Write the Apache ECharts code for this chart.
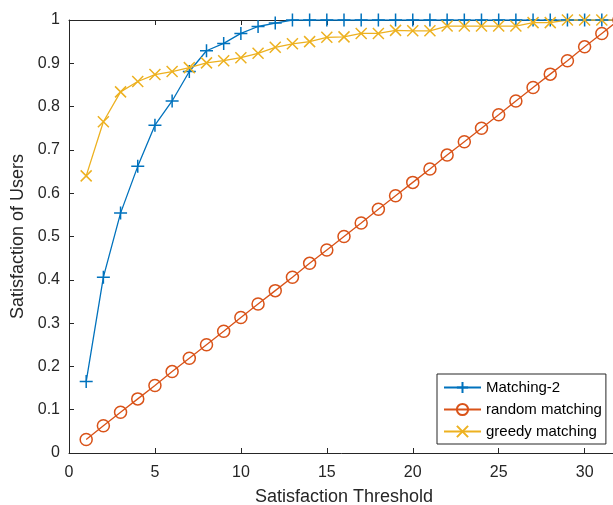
<!DOCTYPE html>
<html>
<head>
<meta charset="utf-8">
<script src="https://cdn.jsdelivr.net/npm/echarts@6/dist/echarts.min.js"></script>
<style>html,body{margin:0;padding:0;background:#fff;}#c{width:613px;height:505px;}</style>
</head>
<body>
<div id="c"></div>
<script>
var thresholds = [1,2,3,4,5,6,7,8,9,10,11,12,13,14,15,16,17,18,19,20,21,22,23,24,25,26,27,28,29,30,31,32];
var matching2 = [0.165,0.406,0.554,0.662,0.757,0.813,0.881,0.929,0.946,0.969,0.985,0.993,1,1,1,1,1,1,1,1,1,1,1,1,1,1,1,1,1,1,1,1];
var randomMatching = [0.031,0.063,0.094,0.125,0.156,0.188,0.219,0.25,0.281,0.313,0.344,0.375,0.406,0.438,0.469,0.5,0.531,0.563,0.594,0.625,0.656,0.688,0.719,0.75,0.781,0.813,0.844,0.875,0.906,0.938,0.969,1.0];
var greedy = [0.640,0.765,0.834,0.858,0.874,0.881,0.890,0.901,0.906,0.913,0.923,0.937,0.945,0.950,0.960,0.961,0.969,0.969,0.976,0.975,0.975,0.986,0.986,0.986,0.986,0.986,0.994,0.994,1,1,1,1];
var seriesNames = ['Matching-2','random matching','greedy matching'];
var xTitle = 'Satisfaction Threshold';
var yTitle = 'Satisfaction of Users';

function pairs(ys){ return thresholds.map(function(x,i){ return [x, ys[i]]; }); }

var axisColor = '#262626';
var font = 'Liberation Sans, Arial, Helvetica, sans-serif';
var chart = echarts.init(document.getElementById('c'), null, {renderer:'canvas'});
var plusPath = 'path://M5,0 L5,10 M0,5 L10,5';
var crossPath = 'path://M0,0 L10,10 M10,0 L0,10';

chart.setOption({
  animation: false,
  backgroundColor: '#ffffff',
  grid: {left: 69, top: 20, width: 550, height: 433, containLabel: false, outerBoundsMode: 'none'},
  legend: {
    orient: 'vertical', left: 437, top: 374,
    padding: [6, 4, 5, 6], itemGap: 7, itemWidth: 37, itemHeight: 14,
    borderColor: axisColor, borderWidth: 1, backgroundColor: '#fff',
    textStyle: {fontFamily: font, fontSize: 15, color: '#000'},
    data: seriesNames
  },
  xAxis: [{
    type: 'value', min: 0, max: 32, interval: 5,
    name: xTitle, nameLocation: 'middle', nameGap: 35,
    nameTextStyle: {fontFamily: font, fontSize: 18, color: axisColor},
    axisLine: {lineStyle: {color: axisColor, width: 1}},
    axisTick: {inside: true, length: 5, lineStyle: {color: axisColor}},
    axisLabel: {fontFamily: font, fontSize: 16, color: axisColor, margin: 12, showMaxLabel: false},
    splitLine: {show: false}
  }, {
    type: 'value', min: 0, max: 32, interval: 5, position: 'top',
    axisLine: {show: true, lineStyle: {color: axisColor, width: 1}},
    axisTick: {show: true, inside: true, length: 5, lineStyle: {color: axisColor}},
    axisLabel: {show: false},
    splitLine: {show: false}
  }],
  yAxis: {
    type: 'value', min: 0, max: 1, interval: 0.1,
    name: yTitle, nameLocation: 'middle', nameGap: 35, nameRotate: 90,
    nameTextStyle: {fontFamily: font, fontSize: 18, color: axisColor},
    axisLine: {show: true, lineStyle: {color: axisColor, width: 1}},
    axisTick: {show: true, inside: true, length: 5, lineStyle: {color: axisColor}},
    axisLabel: {fontFamily: font, fontSize: 16, color: axisColor, margin: 9,
      formatter: function(v){ return String(Math.round(v*10)/10); }},
    splitLine: {show: false}
  },
  series: [{
    name: seriesNames[0], type: 'line', data: pairs(matching2),
    symbol: plusPath, symbolSize: 13, showAllSymbol: true,
    lineStyle: {color: '#0072BD', width: 1.3},
    itemStyle: {color: '#0072BD', borderColor: '#0072BD', borderWidth: 1.5}
  }, {
    name: seriesNames[1], type: 'line', data: pairs(randomMatching),
    symbol: 'circle', symbolSize: 12, showAllSymbol: true,
    lineStyle: {color: '#D95319', width: 1.3},
    itemStyle: {color: 'rgba(255,255,255,0)', borderColor: '#D95319', borderWidth: 1.5}
  }, {
    name: seriesNames[2], type: 'line', data: pairs(greedy),
    symbol: crossPath, symbolSize: 11, showAllSymbol: true,
    lineStyle: {color: '#EDB120', width: 1.3},
    itemStyle: {color: '#EDB120', borderColor: '#EDB120', borderWidth: 1.5}
  }]
});
</script>
</body>
</html>
